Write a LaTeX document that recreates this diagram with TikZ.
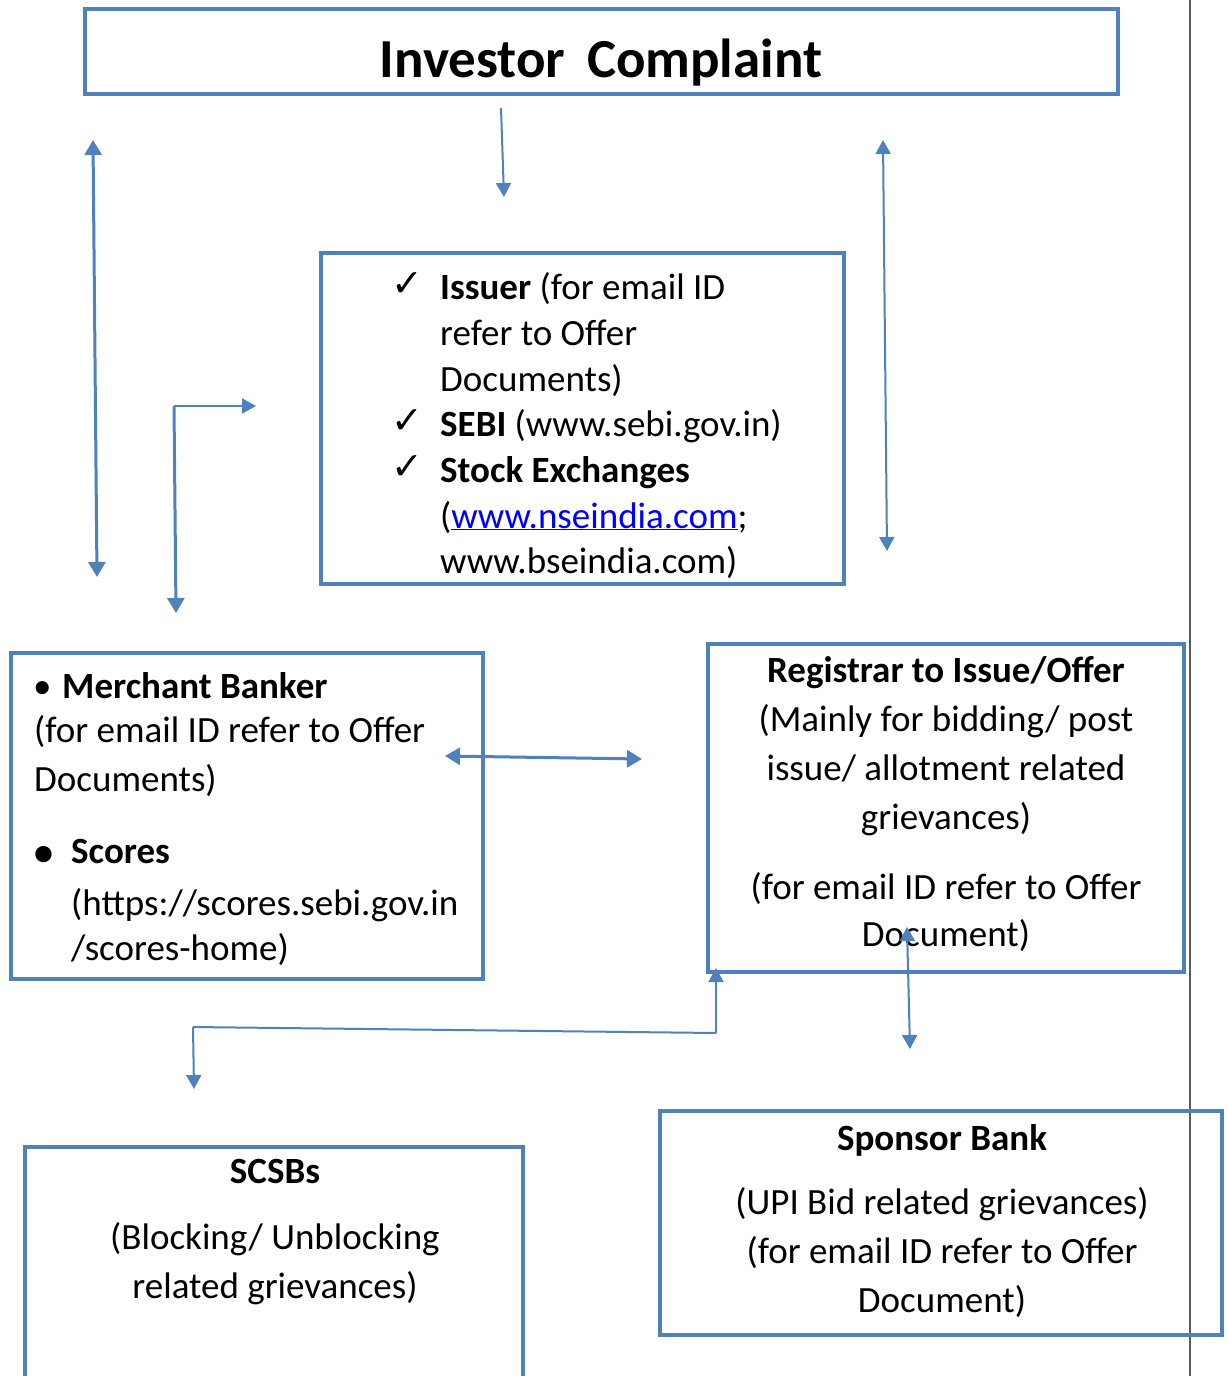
\documentclass[tikz,border=0pt]{standalone}
\usepackage{fontspec}
\setmainfont{Carlito}
\newfontfamily\symfont{DejaVu Sans}
\usetikzlibrary{arrows.meta}
\definecolor{obl}{RGB}{79,129,189}
\definecolor{linkblue}{RGB}{0,0,255}
\definecolor{rulegray}{RGB}{90,90,90}
\begin{document}
\begin{tikzpicture}[x=1pt,y=-1pt,
  box/.style={draw=obl, line width=4pt, inner sep=0pt, outer sep=0pt, anchor=north west},
  thickarr/.style={draw=obl, line width=3pt, -{Triangle[width=17pt,length=15pt]}},
  thickdbl/.style={draw=obl, line width=3pt, {Triangle[width=17pt,length=15pt]}-{Triangle[width=17pt,length=15pt]}},
  thinarr/.style={draw=obl, line width=2pt, -{Triangle[width=15pt,length=14pt]}},
  thindbl/.style={draw=obl, line width=2pt, {Triangle[width=15pt,length=14pt]}-{Triangle[width=15pt,length=14pt]}},
  thinline/.style={draw=obl, line width=2pt},
  body/.style={font=\fontsize{37}{44}\selectfont, inner sep=0pt},
  lw/.style={body, anchor=base west},
  lc/.style={body, anchor=base},
  chk/.style={font=\symfont\fontsize{38}{44}\selectfont, inner sep=0pt, anchor=base west}]
\useasboundingbox (0,0) rectangle (1228,1376);
\fill[white] (0,0) rectangle (1228,1376);
% page rule on the right
\coordinate (rt) at (1190,0);
\coordinate (rb) at (1190,1376);
\draw[rulegray, line width=2pt] (rt) -- (rb);

% boxes
\node[box, minimum width=1033pt, minimum height=85pt] (title) at (85,9) {};
\node[box, minimum width=523pt, minimum height=331pt] (issuer) at (321,253) {};
\node[box, minimum width=472pt, minimum height=326pt] (merchant) at (11,653) {};
\node[box, minimum width=476pt, minimum height=328pt] (registrar) at (708,644) {};
\node[box, minimum width=498pt, minimum height=240pt] (scsb) at (25,1147) {};
\node[box, minimum width=562pt, minimum height=224pt] (sponsor) at (660,1111) {};

% title
\node[inner sep=0pt, anchor=base, font=\bfseries\fontsize{55}{64}\selectfont] (titletxt) at (601,77) {Investor\, Complaint};

% issuer box text
\node[chk] (c1) at (391,296) {✓};
\node[lw] (i1) at (440,299) {\textbf{Issuer} (for email ID};
\node[lw] (i2) at (440,345) {refer to Offer};
\node[lw] (i3) at (440,391) {Documents)};
\node[chk] (c2) at (391,433) {✓};
\node[lw] (i4) at (440,436) {\textbf{SEBI} (www.sebi.gov.in)};
\node[chk] (c3) at (391,479) {✓};
\node[lw] (i5) at (440,482) {\textbf{Stock Exchanges}};
\node[lw] (i6) at (440,528) {({\color{linkblue}\underline{www.nseindia.com}};};
\node[lw] (i7) at (440,573) {www.bseindia.com)};

% merchant box text
\node[lw] (m0) at (33,698) {•};
\node[lw] (m1) at (62,698) {\textbf{Merchant Banker}};
\node[lw] (m2) at (34,742) {(for email ID refer to Offer};
\node[lw] (m3) at (34,791) {Documents)};
\node[body, anchor=base west, font=\fontsize{46}{52}\selectfont] (m4) at (32,867) {•};
\node[lw] (m5) at (71,863) {\textbf{Scores}};
\node[lw] (m6) at (71,915) {(https://scores.sebi.gov.in};
\node[lw] (m7) at (71,960) {/scores-home)};

% registrar text
\node[lc] (r1) at (946,682) {\textbf{Registrar to Issue/Offer}};
\node[lc] (r2) at (946,731) {(Mainly for bidding/ post};
\node[lc] (r3) at (946,780) {issue/ allotment related};
\node[lc] (r4) at (946,829) {grievances)};
\node[lc] (r5) at (946,899) {(for email ID refer to Offer};
\node[lc] (r6) at (946,946) {Document)};

% SCSBs text
\node[lc] (s1) at (275,1183) {\textbf{SCSBs}};
\node[lc] (s2) at (275,1249) {(Blocking/ Unblocking};
\node[lc] (s3) at (275,1298) {related grievances)};

% sponsor text
\node[lc] (p1) at (942,1150) {\textbf{Sponsor Bank}};
\node[lc] (p2) at (942,1214) {(UPI Bid related grievances)};
\node[lc] (p3) at (942,1263) {(for email ID refer to Offer};
\node[lc] (p4) at (942,1312) {Document)};

% connector coordinates
\coordinate (ta) at (501,108);
\coordinate (tb) at (504,197);
\coordinate (la) at (93,140);
\coordinate (lb) at (97,577);
\coordinate (ra) at (883,140);
\coordinate (rbb) at (887,551);
\coordinate (ec) at (174,406);
\coordinate (eh) at (256,406);
\coordinate (ev) at (176,613);
\coordinate (ha) at (445,756);
\coordinate (hb) at (642,759);
\coordinate (sa) at (907,927);
\coordinate (sb) at (910,1049);
\coordinate (ua) at (716,968);
\coordinate (ub) at (716,1033);
\coordinate (uc) at (193,1027);
\coordinate (ud) at (194,1089);

% connectors
\draw[thinarr] (ta) -- (tb);
\draw[thickdbl] (la) -- (lb);
\draw[thindbl] (ra) -- (rbb);
\draw[thinarr] (ec) -- (eh);
\draw[thickarr] (ec) -- (ev);
\draw[thickdbl] (ha) -- (hb);
\draw[thindbl] (sa) -- (sb);
\draw[thinarr] (ub) -- (ua);
\draw[thinline] (ub) -- (uc);
\draw[thinarr] (uc) -- (ud);
\end{tikzpicture}
\end{document}
